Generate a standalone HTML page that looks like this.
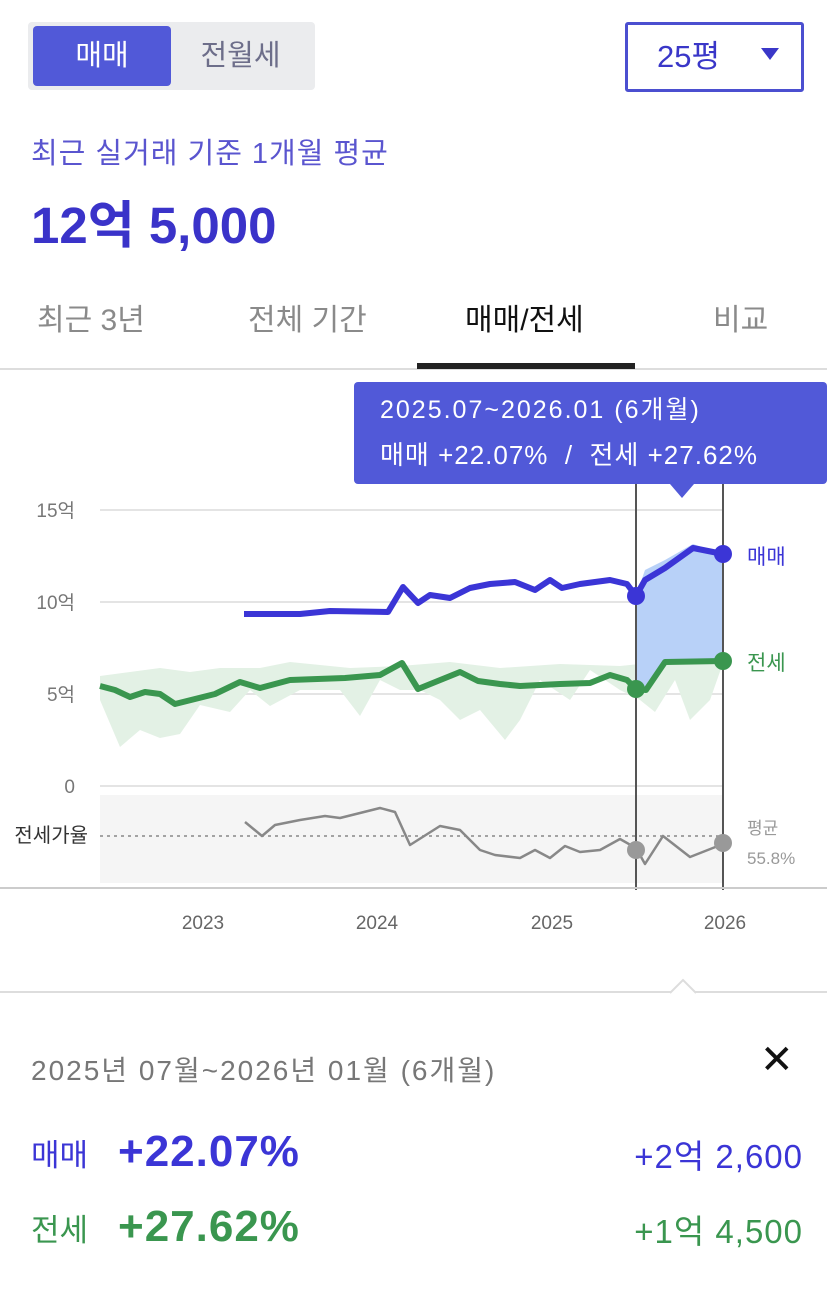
<!DOCTYPE html>
<html><head><meta charset="utf-8">
<style>
*{margin:0;padding:0;box-sizing:border-box}
body{width:827px;height:1289px;background:#fff;position:relative;overflow:hidden;font-family:"Liberation Sans","Noto Sans CJK KR",sans-serif}
.a{position:absolute;white-space:nowrap}
</style></head><body>
<div class="a" style="left:28px;top:22px;width:287px;height:68px;background:#ebecee;border-radius:4px"></div>
<div class="a" style="left:33px;top:26px;width:138px;height:60px;background:#5159d8;border-radius:4px;color:#fff;font-size:29px;line-height:60px;text-align:center">매매</div>
<div class="a" style="left:171px;top:26px;width:139px;height:60px;color:#6d6e8a;font-size:29px;line-height:60px;text-align:center">전월세</div>
<div class="a" style="left:625px;top:22px;width:179px;height:70px;border:3px solid #4b4fd0;border-radius:3px"></div>
<div class="a" style="left:657px;top:37px;color:#3a37c8;font-size:31px;line-height:40px">25평</div>
<div class="a" style="left:761px;top:48px;width:0;height:0;border-left:9px solid transparent;border-right:9px solid transparent;border-top:12px solid #3a37c8"></div>
<div class="a" style="left:31px;top:130px;color:#5a55cf;font-size:29px;letter-spacing:1px">최근 실거래 기준 1개월 평균</div>
<div class="a" style="left:31px;top:184px;color:#3a33c9;font-size:51px;font-weight:bold;letter-spacing:0px">12억 5,000</div>
<div class="a" style="left:37px;top:295px;color:#8a8a8a;font-size:30px">최근 3년</div>
<div class="a" style="left:248px;top:295px;color:#8a8a8a;font-size:30px">전체 기간</div>
<div class="a" style="left:465px;top:295px;color:#111;font-size:30px">매매/전세</div>
<div class="a" style="left:713px;top:295px;color:#8a8a8a;font-size:30px">비교</div>
<div class="a" style="left:0;top:368px;width:827px;height:2px;background:#ddd"></div>
<div class="a" style="left:417px;top:363px;width:218px;height:6px;background:#222"></div>

<svg class="a" style="left:0;top:370px" width="827" height="630" viewBox="0 370 827 630">
<g stroke="#e4e4e4" stroke-width="2"><line x1="100" y1="510" x2="723" y2="510"/><line x1="100" y1="602" x2="723" y2="602"/><line x1="100" y1="694" x2="723" y2="694"/><line x1="100" y1="786" x2="723" y2="786"/></g>
<rect x="100" y="795" width="623" height="88" fill="#f5f5f5"/>
<g font-size="19" fill="#777" text-anchor="end"><text x="75" y="517">15억</text><text x="75" y="609">10억</text><text x="75" y="701">5억</text><text x="75" y="793">0</text></g>
<text x="88" y="842" font-size="20" fill="#333" text-anchor="end">전세가율</text>
<path d="M100,676 L130,672 L160,668 L190,672 L220,668 L260,668 L290,662 L350,668 L400,666 L450,662 L500,668 L560,664 L620,666 L680,660 L723,663 L710,700 L690,720 L675,680 L655,712 L640,700 L620,690 L590,670 L570,700 L540,680 L520,720 L505,740 L480,710 L460,720 L440,700 L420,690 L400,690 L380,680 L360,716 L340,690 L300,690 L270,706 L250,690 L230,712 L200,705 L180,734 L160,738 L140,730 L120,747 L100,700 Z" fill="#e3f1e5"/>
<path d="M636,596 L645,570 L665,560 L693,544 L723,554 L723,661 L665,662 L646,690 L636,689 Z" fill="#b8d1f8"/>
<line x1="100" y1="836" x2="723" y2="836" stroke="#888" stroke-width="1.5" stroke-dasharray="3,4"/>
<polyline fill="none" stroke="#3b35d6" stroke-width="6" stroke-linejoin="round" points="244,614 300,614 330,611 388,612 403,587 418,603 430,595 450,598 470,588 490,584 515,582 535,590 550,580 562,588 580,584 610,580 627,584 636,596 645,580 665,568 693,548 723,554"/>
<polyline fill="none" stroke="#3a964f" stroke-width="6" stroke-linejoin="round" points="100,686 115,690 130,697 145,692 160,694 175,704 215,694 240,682 260,688 290,680 345,678 380,675 402,663 418,689 460,672 478,681 500,684 520,686 560,684 590,683 610,675 627,680 636,689 646,690 665,662 723,661"/>
<polyline fill="none" stroke="#888" stroke-width="2.5" stroke-linejoin="round" points="245,822 262,836 275,825 300,820 325,816 340,818 380,808 395,812 410,845 440,826 460,830 480,850 495,855 520,858 535,850 550,858 565,846 580,852 600,850 620,839 636,848 645,864 663,836 690,857 723,844"/>
<line x1="636" y1="480" x2="636" y2="890" stroke="#555" stroke-width="2"/>
<line x1="723" y1="480" x2="723" y2="890" stroke="#555" stroke-width="2"/>
<circle cx="636" cy="596" r="9" fill="#3b35d6"/><circle cx="723" cy="554" r="9" fill="#3b35d6"/>
<circle cx="636" cy="689" r="9" fill="#3a964f"/><circle cx="723" cy="661" r="9" fill="#3a964f"/>
<circle cx="636" cy="850" r="9" fill="#999"/><circle cx="723" cy="843" r="9" fill="#999"/>
<text x="747" y="564" font-size="21" fill="#3b35d6">매매</text>
<text x="747" y="670" font-size="21" fill="#3a964f">전세</text>
<text x="747" y="834" font-size="17" fill="#999">평균</text>
<text x="747" y="864" font-size="17" fill="#999">55.8%</text>
<line x1="0" y1="888" x2="827" y2="888" stroke="#ccc" stroke-width="2"/>
<g font-size="19" fill="#666" text-anchor="middle"><text x="203" y="929">2023</text><text x="377" y="929">2024</text><text x="552" y="929">2025</text><text x="725" y="929">2026</text></g>
<rect x="354" y="382" width="473" height="102" rx="4" fill="#5159d8"/>
<path d="M670,484 L682,498 L694,484 Z" fill="#5159d8"/>
<text x="380" y="418" font-size="25" fill="#fff" letter-spacing="2">2025.07~2026.01 (6개월)</text>
<text x="380" y="464" font-size="26" fill="#fff" letter-spacing="1" xml:space="preserve">매매 +22.07%  /  전세 +27.62%</text>
<line x1="0" y1="992" x2="827" y2="992" stroke="#ddd" stroke-width="2"/>
<path d="M670,993 L683,980 L696,993" fill="#fff" stroke="#ddd" stroke-width="2"/>
</svg>

<div class="a" style="left:31px;top:1049px;color:#777;font-size:28px;letter-spacing:2px">2025년 07월~2026년 01월 (6개월)</div>
<div class="a" style="left:760px;top:1040px;color:#111;font-size:40px;line-height:40px">✕</div>
<div class="a" style="left:31px;top:1130px;color:#3b35d6;font-size:31px">매매</div>
<div class="a" style="left:118px;top:1127px;color:#3b35d6;font-size:44px;font-weight:bold;letter-spacing:1px">+22.07%</div>
<div class="a" style="right:24px;top:1130px;color:#3b35d6;font-size:33px;letter-spacing:1px">+2억 2,600</div>
<div class="a" style="left:31px;top:1205px;color:#3a964f;font-size:31px">전세</div>
<div class="a" style="left:118px;top:1202px;color:#3a964f;font-size:44px;font-weight:bold;letter-spacing:1px">+27.62%</div>
<div class="a" style="right:24px;top:1205px;color:#3a964f;font-size:33px;letter-spacing:1px">+1억 4,500</div>
</body></html>
